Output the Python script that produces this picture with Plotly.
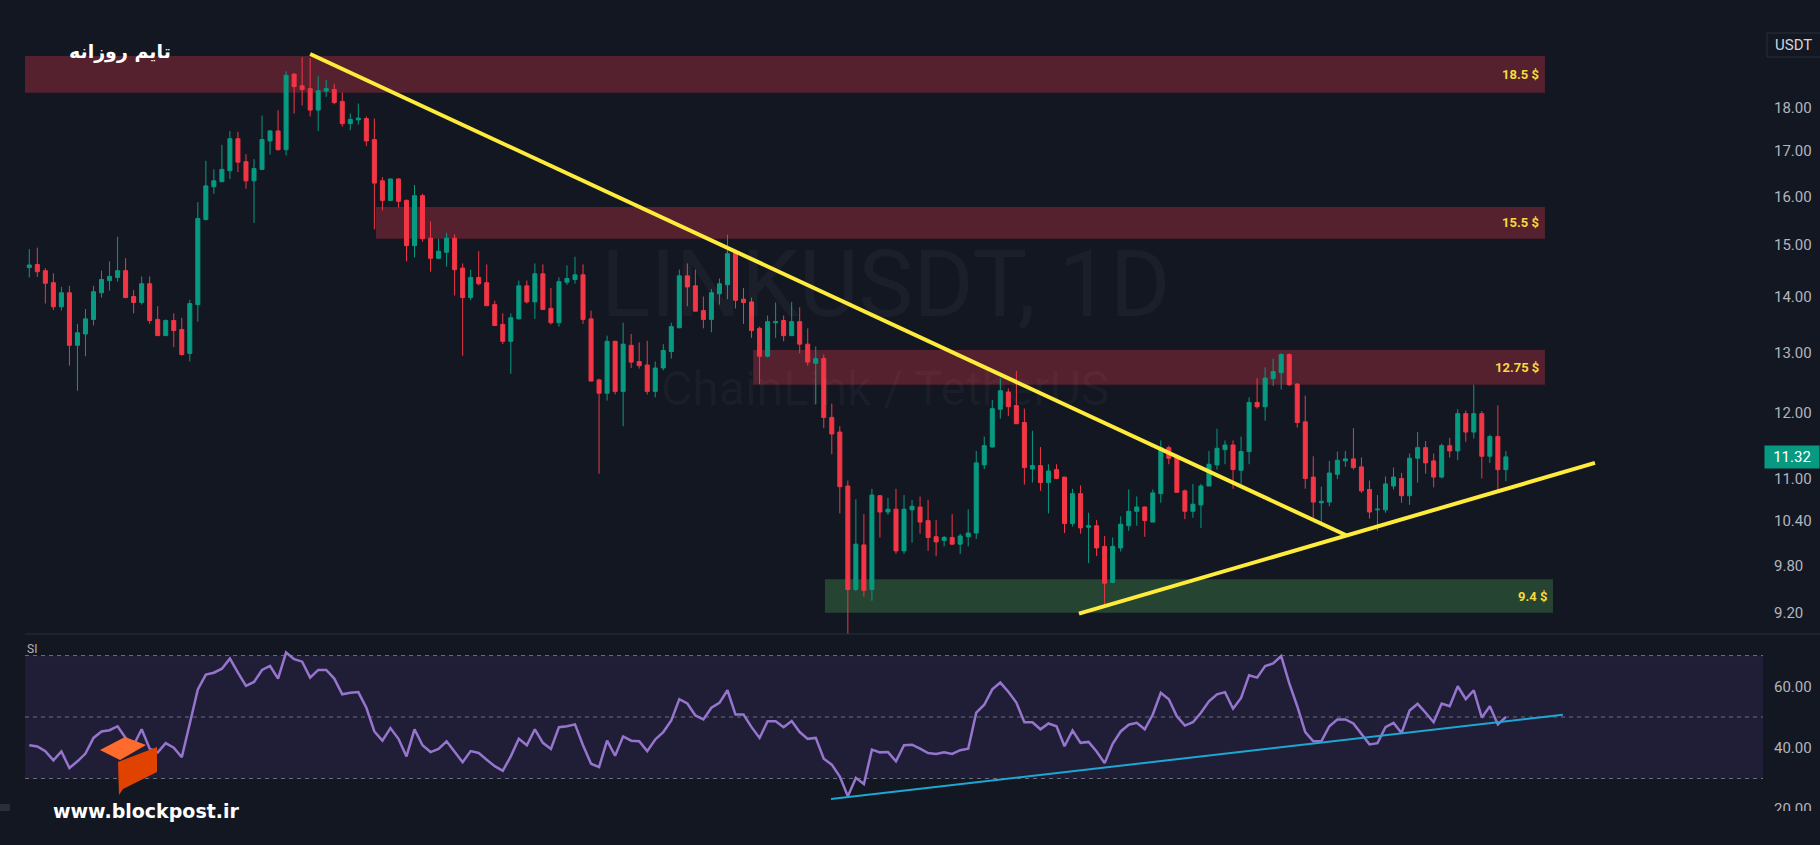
import math
import plotly.graph_objects as go

# ---------------- data (LINKUSDT daily) ----------------
open_ = [14.56, 14.62, 14.50, 14.27, 13.82, 14.08, 13.13, 13.33, 13.59, 14.08,
         14.31, 14.37, 14.50, 14.01, 13.90, 14.25, 13.59, 13.30, 13.57, 13.41,
         12.99, 13.86, 15.52, 16.21, 16.32, 16.56, 17.28, 16.76, 16.34, 16.59,
         17.23, 17.46, 17.03, 18.83, 18.54, 18.47, 17.95, 18.41, 18.45, 18.16,
         17.63, 17.72, 17.75, 17.26, 16.34, 15.92, 16.38, 15.92, 14.99, 16.02,
         15.14, 14.74, 14.86, 15.14, 14.55, 13.99, 14.37, 14.27, 13.86, 13.50,
         13.20, 13.60, 14.21, 13.91, 14.44, 13.79, 13.53, 14.28, 14.33, 14.42,
         13.60, 12.54, 12.32, 13.20, 12.35, 13.13, 12.85, 12.79, 12.35, 12.74,
         13.02, 13.44, 14.40, 14.21, 13.75, 13.59, 14.06, 14.23, 14.85, 13.96,
         13.91, 13.43, 12.94, 13.53, 13.57, 13.30, 13.55, 13.15, 12.82, 12.90,
         11.93, 11.70, 10.89, 9.49, 10.07, 9.49, 10.75, 10.52, 10.56, 9.99,
         10.55, 10.59, 10.40, 10.18, 10.13, 10.17, 10.08, 10.18, 10.23, 11.20,
         11.47, 12.06, 12.34, 12.12, 11.85, 11.14, 11.19, 10.94, 11.13, 11.02,
         10.36, 10.78, 10.31, 10.33, 10.05, 9.58, 10.03, 10.33, 10.53, 10.59,
         10.38, 10.78, 11.46, 11.33, 10.82, 10.53, 10.62, 10.89, 11.20, 11.43,
         11.50, 11.12, 11.40, 12.17, 12.10, 12.56, 12.66, 12.97, 12.47, 11.86,
         11.02, 10.65, 10.66, 11.06, 11.26, 11.29, 11.17, 10.84, 10.55, 10.55,
         10.89, 11.00, 10.75, 11.30, 11.46, 11.26, 11.02, 11.49, 11.41, 11.99,
         11.70, 11.99, 11.33, 11.63, 11.13]
high = [14.92, 14.95, 14.55, 14.45, 14.19, 14.21, 13.51, 13.78, 14.21, 14.50,
        14.68, 15.17, 14.74, 14.13, 14.39, 14.39, 13.83, 13.59, 13.70, 13.62,
        13.95, 15.88, 16.78, 16.59, 17.14, 17.46, 17.44, 16.93, 16.82, 17.82,
        17.48, 17.95, 18.90, 18.85, 19.26, 19.23, 18.78, 18.69, 18.59, 18.38,
        17.87, 18.11, 17.80, 17.75, 16.42, 16.38, 16.40, 15.94, 16.25, 16.06,
        15.48, 15.13, 15.25, 15.22, 14.64, 14.52, 14.88, 14.62, 13.93, 13.70,
        13.70, 14.31, 14.31, 14.64, 14.62, 14.17, 14.37, 14.60, 14.77, 14.62,
        13.75, 12.56, 13.30, 13.21, 13.53, 13.33, 13.18, 13.21, 12.85, 13.15,
        13.53, 14.52, 14.64, 14.52, 14.01, 14.15, 14.35, 15.21, 14.89, 14.17,
        13.99, 13.46, 13.66, 13.90, 13.66, 13.91, 13.81, 13.43, 13.11, 12.97,
        12.15, 11.79, 10.97, 10.70, 10.49, 10.85, 10.76, 10.72, 10.85, 10.76,
        10.69, 10.74, 10.69, 10.41, 10.19, 10.49, 10.22, 10.56, 11.41, 11.63,
        12.21, 12.57, 12.40, 12.69, 12.07, 11.72, 11.47, 11.21, 11.21, 11.02,
        10.85, 10.90, 10.51, 10.41, 10.19, 10.17, 10.46, 10.84, 10.74, 10.60,
        10.84, 11.57, 11.49, 11.36, 10.84, 10.92, 10.92, 11.41, 11.75, 11.57,
        11.57, 11.63, 12.25, 12.57, 12.75, 12.90, 12.99, 12.99, 12.49, 12.28,
        11.33, 10.88, 11.26, 11.40, 11.41, 11.76, 11.31, 10.97, 10.76, 11.03,
        11.16, 11.08, 11.37, 11.70, 11.56, 11.37, 11.52, 11.61, 12.06, 12.04,
        12.46, 12.03, 11.66, 12.12, 11.41]
low = [14.37, 14.38, 13.88, 13.76, 13.75, 12.78, 12.36, 12.94, 13.48, 13.99,
       14.12, 14.29, 13.98, 13.70, 13.86, 13.51, 13.30, 13.30, 13.10, 12.95,
       12.85, 13.55, 15.50, 16.06, 16.32, 16.38, 16.53, 16.17, 15.45, 16.59,
       16.92, 17.01, 16.90, 17.87, 18.06, 17.80, 17.46, 18.27, 18.09, 17.56,
       17.48, 17.61, 17.11, 15.32, 15.71, 15.92, 15.77, 14.68, 14.76, 15.07,
       14.48, 14.72, 14.58, 14.03, 12.95, 13.94, 14.22, 13.84, 13.48, 13.15,
       12.64, 13.59, 13.88, 13.60, 13.77, 13.50, 13.46, 14.23, 14.25, 13.51,
       12.52, 11.07, 12.20, 12.30, 11.79, 12.74, 12.73, 12.30, 12.25, 12.70,
       12.90, 13.43, 13.83, 13.74, 13.43, 13.36, 13.86, 13.96, 13.79, 13.51,
       13.26, 12.47, 12.92, 13.26, 13.20, 13.30, 12.99, 12.78, 12.14, 11.76,
       11.36, 10.50, 8.94, 9.47, 9.40, 9.35, 10.17, 10.48, 9.95, 9.95,
       10.10, 10.22, 9.99, 9.92, 10.05, 10.07, 9.95, 10.05, 10.15, 11.14,
       11.46, 11.91, 11.95, 11.83, 10.91, 10.94, 10.82, 10.50, 10.99, 10.23,
       10.32, 10.22, 9.83, 9.92, 9.29, 9.57, 9.98, 10.26, 10.33, 10.18,
       10.38, 10.65, 11.21, 10.79, 10.42, 10.44, 10.30, 10.89, 11.13, 11.21,
       10.85, 10.92, 11.21, 12.07, 11.88, 12.44, 12.38, 12.44, 11.77, 10.85,
       10.44, 10.33, 10.60, 10.99, 11.17, 11.13, 10.79, 10.43, 10.26, 10.51,
       10.84, 10.65, 10.62, 10.94, 11.07, 10.87, 11.00, 11.31, 11.27, 11.55,
       11.60, 11.00, 11.23, 10.80, 10.96]
close = [14.61, 14.48, 14.26, 13.82, 14.08, 13.13, 13.35, 13.60, 14.10, 14.33,
         14.39, 14.50, 13.99, 13.90, 14.25, 13.57, 13.30, 13.57, 13.39, 12.97,
         13.88, 15.54, 16.23, 16.34, 16.59, 17.28, 16.75, 16.34, 16.61, 17.26,
         17.46, 17.03, 18.80, 18.52, 18.45, 17.95, 18.42, 18.47, 18.13, 17.63,
         17.73, 17.76, 17.23, 16.29, 15.92, 16.38, 15.90, 14.99, 16.02, 15.13,
         14.74, 14.88, 15.14, 14.52, 13.99, 14.37, 14.25, 13.84, 13.48, 13.20,
         13.62, 14.21, 13.91, 14.44, 13.77, 13.53, 14.29, 14.35, 14.42, 13.59,
         12.52, 12.32, 13.20, 12.35, 13.15, 12.84, 12.78, 12.35, 12.74, 13.04,
         13.46, 14.40, 14.19, 13.74, 13.59, 14.08, 14.25, 14.83, 13.94, 13.90,
         13.39, 12.94, 13.55, 13.55, 13.30, 13.55, 13.15, 12.84, 12.90, 11.93,
         11.67, 10.88, 9.49, 10.08, 9.48, 10.76, 10.52, 10.56, 9.99, 10.56,
         10.60, 10.38, 10.17, 10.11, 10.17, 10.08, 10.19, 10.23, 11.23, 11.49,
         12.07, 12.36, 12.10, 11.83, 11.16, 11.19, 10.94, 11.11, 11.00, 10.36,
         10.78, 10.30, 10.33, 10.03, 9.57, 10.05, 10.35, 10.53, 10.59, 10.40,
         10.79, 11.46, 11.30, 10.80, 10.53, 10.63, 10.89, 11.21, 11.45, 11.50,
         11.13, 11.40, 12.17, 12.10, 12.57, 12.68, 12.97, 12.46, 11.85, 11.00,
         10.66, 10.67, 11.08, 11.27, 11.29, 11.16, 10.82, 10.52, 10.56, 10.92,
         11.02, 10.75, 11.30, 11.46, 11.23, 11.02, 11.49, 11.41, 11.99, 11.70,
         11.99, 11.33, 11.63, 11.13, 11.32]
rsi = [40.8, 40.4, 38.9, 35.9, 38.8, 33.4, 35.6, 38.1, 43.2, 45.3,
       45.7, 47.0, 43.2, 40.8, 46.0, 39.7, 38.5, 41.5, 40.0, 36.9,
       47.9, 59.0, 63.8, 64.4, 65.7, 69.0, 64.4, 60.1, 61.4, 65.3,
       66.6, 62.5, 71.0, 68.8, 68.0, 62.8, 65.3, 65.3, 62.5, 57.4,
       57.9, 58.1, 53.0, 45.3, 42.3, 46.4, 42.9, 37.2, 46.0, 40.8,
       38.6, 39.6, 42.1, 38.5, 35.3, 38.9, 38.3, 36.1, 34.0, 32.5,
       37.2, 42.9, 40.8, 46.0, 41.6, 39.6, 46.7, 47.0, 47.6, 40.8,
       34.8, 33.7, 42.3, 37.4, 43.7, 42.3, 42.1, 38.9, 42.7, 45.1,
       48.9, 55.8, 54.4, 50.5, 49.2, 53.0, 54.6, 58.7, 50.8, 50.8,
       46.7, 43.2, 48.6, 48.6, 46.7, 48.7, 45.1, 42.9, 43.2, 36.4,
       34.5, 30.6, 24.2, 30.2, 28.2, 39.4, 38.5, 38.6, 35.6, 40.8,
       41.0, 39.7, 38.3, 38.0, 38.5, 38.0, 39.2, 39.7, 51.4, 54.0,
       59.0, 61.2, 58.2, 54.7, 48.3, 48.3, 46.0, 47.9, 47.0, 40.5,
       45.6, 41.6, 41.9, 38.8, 35.0, 41.3, 45.3, 47.5, 48.1, 46.0,
       50.8, 57.9, 55.8, 50.2, 47.2, 48.3, 51.4, 55.1, 57.4, 58.1,
       52.7, 56.2, 63.6, 62.8, 66.6, 67.4, 69.8, 61.0, 53.5, 45.1,
       42.1, 42.1, 47.0, 49.2, 49.2, 47.9, 44.5, 41.1, 41.5, 46.7,
       48.1, 44.8, 52.1, 54.3, 51.4, 48.3, 54.4, 53.5, 60.0, 55.8,
       58.7, 49.8, 53.5, 47.6, 50.0]
bar_index = list(range(len(close)))

# zones (support / resistance)
zone_labels = ["18.5 $", "15.5 $", "12.75 $", "9.4 $"]
zone_low = [18.37, 15.13, 12.46, 9.20]
zone_high = [19.29, 15.78, 13.05, 9.62]
zone_start = [-1.0, 43.2, 90.2, 99.15]
zone_end = [188.87, 188.87, 188.87, 189.87]

# trend lines
down_line_x = [35.0, 164.1]
down_line_y = [19.34, 10.20]
up_line_x = [130.8, 195.1]
up_line_y = [9.19, 11.23]
rsi_line_x = [99.9, 191.1]
rsi_line_y = [23.3, 50.75]

price_ticks = [9.2, 9.8, 10.4, 11, 12, 13, 14, 15, 16, 17, 18]
rsi_ticks = [20, 40, 60]
rsi_levels = [70, 50, 30]

# ---------------- style ----------------
BG = "#131722"
GREEN = "#089981"
RED = "#F23645"
YELLOW = "#FFEB3B"
ZONE_RED = "#55212E"
ZONE_GREEN = "#264432"
zone_colors = [ZONE_RED, ZONE_RED, ZONE_RED, ZONE_GREEN]
AXIS_TXT = "#B2B5BE"

W, H = 1820, 845
L_PX, R_PX = 25, 1763
SPLIT = 634
split_frac = 1 - SPLIT / H
pw = R_PX - L_PX


def px(xp):
    return (xp - L_PX) / pw


def py(yp):
    return 1 - yp / H


fig = go.Figure()

# zones as one bar trace (bar layer sits beneath the candlesticks)
fig.add_trace(go.Bar(
    x=[(a + b) / 2 for a, b in zip(zone_start, zone_end)],
    width=[b - a for a, b in zip(zone_start, zone_end)],
    base=zone_low,
    y=[h - l for l, h in zip(zone_low, zone_high)],
    marker=dict(color=zone_colors, line=dict(width=0)),
    hoverinfo="skip", showlegend=False, xaxis="x", yaxis="y"))

fig.add_trace(go.Candlestick(
    x=bar_index, open=open_, high=high, low=low, close=close,
    increasing=dict(line=dict(color=GREEN, width=1), fillcolor=GREEN),
    decreasing=dict(line=dict(color=RED, width=1), fillcolor=RED),
    whiskerwidth=0, showlegend=False, hoverinfo="skip",
    xaxis="x", yaxis="y"))

for lx, ly in [(down_line_x, down_line_y), (up_line_x, up_line_y)]:
    fig.add_trace(go.Scatter(x=lx, y=ly, mode="lines",
                             line=dict(color=YELLOW, width=4),
                             hoverinfo="skip", showlegend=False,
                             xaxis="x", yaxis="y"))

# RSI pane
fig.add_trace(go.Scatter(x=bar_index, y=rsi, mode="lines",
                         line=dict(color="#9575CD", width=2.5),
                         hoverinfo="skip", showlegend=False,
                         xaxis="x", yaxis="y2"))
fig.add_trace(go.Scatter(x=rsi_line_x, y=rsi_line_y, mode="lines",
                         line=dict(color="#1EA7D2", width=2),
                         hoverinfo="skip", showlegend=False,
                         xaxis="x", yaxis="y2"))

shapes = []
shapes.append(dict(type="rect", xref="paper", yref="y2", x0=0, x1=1,
                   y0=rsi_levels[2], y1=rsi_levels[0], fillcolor="#201E37",
                   line=dict(width=0), layer="below"))
for lv in rsi_levels:
    shapes.append(dict(type="line", xref="paper", yref="y2", x0=0, x1=1,
                       y0=lv, y1=lv, line=dict(color="#6A6D78", width=1, dash="4px,4px"),
                       layer="below"))
# pane separator
shapes.append(dict(type="line", xref="paper", yref="paper", x0=px(L_PX), x1=px(W),
                   y0=split_frac, y1=split_frac, line=dict(color="#2A2E39", width=1)))
# USDT box
shapes.append(dict(type="rect", xref="paper", yref="paper", x0=px(1767), x1=px(1822),
                   y0=py(57), y1=py(33), line=dict(color="#2A2E39", width=1),
                   fillcolor=BG))
# bottom strip (hides lower half of the lowest RSI label, as in the source)
shapes.append(dict(type="rect", xref="paper", yref="paper", x0=px(1764), x1=px(1822),
                   y0=py(H + 2), y1=py(811), fillcolor=BG, line=dict(width=0),
                   layer="above"))
# logo
shapes.append(dict(type="path", xref="paper", yref="paper",
                   path="M {} {} L {} {} L {} {} L {} {} Z".format(
                       px(100), py(750), px(125), py(737), px(146), py(745), px(120), py(760)),
                   fillcolor="#FF6B2C", line=dict(width=0), layer="above"))
shapes.append(dict(type="path", xref="paper", yref="paper",
                   path="M {} {} L {} {} L {} {} L {} {} L {} {} Z".format(
                       px(118), py(762), px(157), py(747), px(157), py(772),
                       px(123), py(789), px(119), py(795)),
                   fillcolor="#E04300", line=dict(width=0), layer="above"))
shapes.append(dict(type="rect", xref="paper", yref="paper", x0=px(0), x1=px(10),
                   y0=py(811), y1=py(804), fillcolor="#2A2E39", line=dict(width=0)))

annotations = []
# watermark
annotations.append(dict(text="LINKUSDT, 1D", xref="paper", yref="paper",
                        x=px(885), y=py(284), xanchor="center", yanchor="middle",
                        showarrow=False,
                        font=dict(family="Roboto", size=92, color="rgba(255,255,255,0.035)")))
annotations.append(dict(text="ChainLink / TetherUS", xref="paper", yref="paper",
                        x=px(885), y=py(389), xanchor="center", yanchor="middle",
                        showarrow=False,
                        font=dict(family="Roboto", size=48, color="rgba(255,255,255,0.035)")))
# zone labels
for lab, lo, hi, x1 in zip(zone_labels, zone_low, zone_high, zone_end):
    annotations.append(dict(text="<b>" + lab + "</b>", xref="x", yref="y",
                            x=x1, y=math.log10(math.sqrt(lo * hi)),
                            xanchor="right", yanchor="middle", xshift=-4, showarrow=False,
                            font=dict(family="Roboto", size=13, color="#F7DA3B")))
# title
annotations.append(dict(text="<b>تایم روزانه</b>", xref="paper", yref="paper",
                        x=px(120), y=py(51), xanchor="center", yanchor="middle",
                        showarrow=False,
                        font=dict(family="DejaVu Sans", size=19, color="#FFFFFF")))
annotations.append(dict(text="SI", xref="paper", yref="paper", x=px(25), y=py(649),
                        xanchor="left", yanchor="middle", showarrow=False,
                        font=dict(family="Roboto", size=12, color=AXIS_TXT)))
annotations.append(dict(text="USDT", xref="paper", yref="paper", x=px(1794), y=py(45),
                        xanchor="center", yanchor="middle", showarrow=False,
                        font=dict(family="Roboto", size=15, color="#D1D4DC")))
# last price label
annotations.append(dict(text="{:.2f}".format(close[-1]), xref="paper", yref="y",
                        x=px(1764), y=math.log10(close[-1]), xanchor="left",
                        yanchor="middle",
                        showarrow=False, bgcolor=GREEN, width=50, height=18,
                        borderpad=2, align="center",
                        font=dict(family="Roboto", size=15, color="#FFFFFF")))
annotations.append(dict(text="<b>www.blockpost.ir</b>", xref="paper", yref="paper",
                        x=px(146), y=py(811), xanchor="center", yanchor="middle",
                        showarrow=False,
                        font=dict(family="DejaVu Sans", size=19, color="#FFFFFF")))

fig.update_layout(
    width=W, height=H,
    margin=dict(l=L_PX, r=W - R_PX, t=0, b=0),
    paper_bgcolor=BG, plot_bgcolor=BG,
    showlegend=False, hovermode=False,
    barmode="overlay",
    boxgap=0.5, boxgroupgap=0,
    shapes=shapes, annotations=annotations,
    xaxis=dict(domain=[0, 1], range=[-0.536, 216.04], visible=False,
               anchor="y2", rangeslider=dict(visible=False), fixedrange=True),
    yaxis=dict(domain=[split_frac, 1], type="log",
               range=[math.log10(8.945), math.log10(20.78)],
               side="right", anchor="x", showgrid=False, zeroline=False,
               tickvals=price_ticks, ticktext=["{:.2f}".format(v) for v in price_ticks],
               tickfont=dict(family="Roboto", size=15, color=AXIS_TXT),
               ticks="", ticklabelstandoff=10, showline=False),
    yaxis2=dict(domain=[0, split_frac], range=[8.37, 77.0],
                side="right", anchor="x", showgrid=False, zeroline=False,
                tickvals=rsi_ticks, ticktext=["{:.2f}".format(v) for v in rsi_ticks],
                tickfont=dict(family="Roboto", size=15, color=AXIS_TXT),
                ticks="", ticklabelstandoff=10, showline=False),
)

fig.write_html("out.html", config={"displayModeBar": False})
